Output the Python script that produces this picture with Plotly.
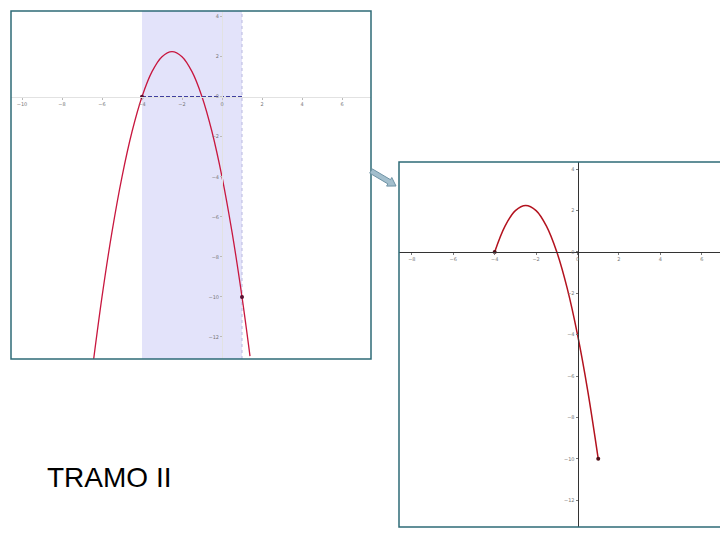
import plotly.graph_objects as go

# curve: f(x) along the parabola
curve_x = [-6.5, -6.0, -5.5, -5.0, -4.5, -4.0, -3.5, -3.0, -2.5, -2.0, -1.5, -1.0, -0.5, 0.0, 0.5, 1.0, 1.4]
curve_y = [-13.75, -10.0, -6.75, -4.0, -1.75, 0.0, 1.25, 2.0, 2.25, 2.0, 1.25, 0.0, -1.75, -4.0, -6.75, -10.0, -12.96]

# the piece kept on the right ("tramo II")
piece_x = [-4.0, -3.5, -3.0, -2.5, -2.0, -1.5, -1.0, -0.5, 0.0, 0.5, 1.0]
piece_y = [0.0, 1.25, 2.0, 2.25, 2.0, 1.25, 0.0, -1.75, -4.0, -6.75, -10.0]

end_x = [-4, 1]
end_y = [0, -10]

band = [-4, 1]

left_xticks = [-10, -8, -6, -4, -2, 0, 2, 4, 6]
left_yticks = [-12, -10, -8, -6, -4, -2, 0, 2, 4]
right_xticks = [-8, -6, -4, -2, 0, 2, 4, 6]
right_yticks = [-12, -10, -8, -6, -4, -2, 0, 2, 4]

title_text = "TRAMO II"

W, H = 720, 540
BORDER = "#2E6B77"


def px(x):
    return x / W


def py(y):
    return 1 - y / H


# panel boxes in pixels (left, top, right, bottom)
L = (11, 11, 371, 359)
R = (399, 162, 720, 527)
L_xr, L_yr = [-10.55, 7.45], [-13.1, 4.28]
R_xr, R_yr = [-8.62, 6.88], [-13.3, 4.35]


def axis_pos(rng, d0, d1, v=0):
    return d0 + (v - rng[0]) / (rng[1] - rng[0]) * (d1 - d0)


fig = go.Figure()

fig.add_scatter(x=curve_x, y=curve_y, mode="lines", line_shape="spline",
                line=dict(color="#C8173F", width=1.3), xaxis="x", yaxis="y")
fig.add_scatter(x=band, y=[0, 0], mode="lines",
                line=dict(color="#3F3FA0", width=1.5, dash="4px,2px"), xaxis="x", yaxis="y")
fig.add_scatter(x=end_x, y=end_y, mode="markers",
                marker=dict(color="#5A1030", size=4), xaxis="x", yaxis="y")

fig.add_scatter(x=piece_x, y=piece_y, mode="lines", line_shape="spline",
                line=dict(color="#B3121E", width=1.5), xaxis="x2", yaxis="y2")
fig.add_scatter(x=end_x, y=end_y, mode="markers",
                marker=dict(color="#501018", size=4), xaxis="x2", yaxis="y2")

tickfont = dict(size=5, color="#777777", family="DejaVu Sans")

Lxd = [px(L[0]), px(L[2])]
Lyd = [py(L[3]), py(L[1])]
Rxd = [px(R[0]), px(R[2])]
Ryd = [py(R[3]), py(R[1])]

fig.update_layout(
    width=W, height=H, margin=dict(l=0, r=0, t=0, b=0),
    paper_bgcolor="white", plot_bgcolor="white", showlegend=False,
    xaxis=dict(domain=Lxd, range=L_xr, anchor="free",
               position=axis_pos(L_yr, Lyd[0], Lyd[1]),
               showgrid=False, zeroline=False, showline=True, linecolor="#E2E2E2",
               tickvals=left_xticks, ticks="outside", ticklen=2, tickcolor="#BBBBBB",
               tickfont=tickfont),
    yaxis=dict(domain=Lyd, range=L_yr, anchor="free",
               position=axis_pos(L_xr, Lxd[0], Lxd[1]),
               showgrid=False, zeroline=False, showline=True, linecolor="#E2E2E2",
               tickvals=left_yticks, ticks="outside", ticklen=2, tickcolor="#BBBBBB",
               tickfont=tickfont),
    xaxis2=dict(domain=Rxd, range=R_xr, anchor="free",
                position=axis_pos(R_yr, Ryd[0], Ryd[1]),
                showgrid=False, zeroline=False, showline=True, linecolor="#333333",
                tickvals=right_xticks, ticks="outside", ticklen=2, tickcolor="#777777",
                tickfont=tickfont),
    yaxis2=dict(domain=Ryd, range=R_yr, anchor="free",
                position=axis_pos(R_xr, Rxd[0], Rxd[1]),
                showgrid=False, zeroline=False, showline=True, linecolor="#333333",
                tickvals=right_yticks, ticks="outside", ticklen=2, tickcolor="#777777",
                tickfont=tickfont),
)

# shaded strip between the two ends
fig.add_shape(type="rect", xref="x", yref="y domain", x0=band[0], x1=band[1], y0=0, y1=1,
              fillcolor="#E3E3FA", line=dict(width=0), layer="below")
fig.add_shape(type="line", xref="x", yref="y domain", x0=band[1], x1=band[1], y0=0, y1=1,
              line=dict(color="#B8B8E0", width=1, dash="dot"), layer="below")

# panel frames
fig.add_shape(type="rect", xref="paper", yref="paper",
              x0=px(L[0]), x1=px(L[2]), y0=py(L[3]), y1=py(L[1]),
              line=dict(color=BORDER, width=1.5))
fig.add_shape(type="path", xref="paper", yref="paper",
              path=f"M {px(725)},{py(R[1])} L {px(R[0])},{py(R[1])} L {px(R[0])},{py(R[3])} L {px(725)},{py(R[3])}",
              line=dict(color=BORDER, width=1.5))

# block arrow between the panels
arrow = [(369.7, 173.1), (372.3, 168.9), (390.5, 179.7), (391.8, 177.5),
         (396.0, 186.0), (386.6, 186.1), (387.9, 183.9)]
path = "M " + " L ".join(f"{px(a)},{py(b)}" for a, b in arrow) + " Z"
fig.add_shape(type="path", xref="paper", yref="paper", path=path,
              fillcolor="#A3BFCD", line=dict(color="#6F93A5", width=1))

fig.add_annotation(text=title_text, xref="paper", yref="paper",
                   x=px(45), y=py(477), xanchor="left", yanchor="middle", showarrow=False,
                   font=dict(family="Liberation Sans, Arial", size=28, color="#000000"))

fig.write_html("out.html", config={"displayModeBar": False},
               post_script="document.body.style.margin='0';")
